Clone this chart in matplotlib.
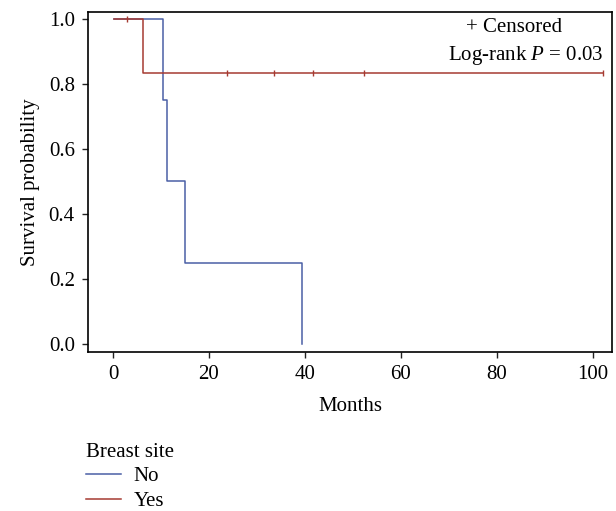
import matplotlib
matplotlib.use('Agg')

import numpy as np
import matplotlib.pyplot as plt
from matplotlib.lines import Line2D

# step data
no_times = [0.2, 10.5, 11.2, 15.1, 39.4]
no_surv = [1.0, 0.75, 0.5, 0.25, 0.0]

yes_times = [0.2, 6.3, 102.2]
yes_surv = [1.0, 0.8333, 0.8333]
yes_censor_t = [2.9, 23.8, 33.5, 41.6, 52.3, 102.2]
yes_censor_s = [1.0, 0.8333, 0.8333, 0.8333, 0.8333, 0.8333]

x_ticks = [0, 20, 40, 60, 80, 100]
y_ticks = [0.0, 0.2, 0.4, 0.6, 0.8, 1.0]

blue = '#4a5fa6'
red = '#a63a31'
fs = 15

plt.rcParams['font.family'] = ['Liberation Serif', 'DejaVu Serif']
plt.rcParams['mathtext.fontset'] = 'custom'
plt.rcParams['mathtext.it'] = 'Liberation Serif:italic'

fig = plt.figure(figsize=(6.16, 5.11), dpi=100)
ax = fig.add_axes([88 / 616, 1 - 352 / 511, (612 - 88) / 616, (352 - 12) / 511])

ax.step(no_times, no_surv, where='post', color=blue, linewidth=1.1)
ax.step(yes_times, yes_surv, where='post', color=red, linewidth=1.1)
ax.plot(yes_censor_t, yes_censor_s, linestyle='none', marker='|',
        markersize=5, markeredgewidth=1.0, color=red)

ax.set_xlim(-5.2, 104)
ax.set_ylim(-0.025, 1.0215)
ax.set_xticks(x_ticks)
ax.set_yticks(y_ticks)
ax.set_yticklabels(['%.1f' % v for v in y_ticks])
ax.tick_params(labelsize=fs, length=4.5, width=1.0, color='#222222', pad=5)
for s in ax.spines.values():
    s.set_linewidth(1.2)

ax.set_xlabel('Months', fontsize=fs, labelpad=9)
ax.set_ylabel('Survival probability', fontsize=fs, labelpad=6)

ax.text(514.5 / 616, 1 - 27 / 511, '+ Censored', transform=fig.transFigure,
        fontsize=fs, ha='center', va='center')
ax.text(604 / 616, 1 - 55 / 511, 'Log-rank $P$ = 0.03',
        transform=fig.transFigure, fontsize=fs, ha='right', va='center')

# legend below the plot
handles = [Line2D([], [], color=blue, linewidth=1.1),
           Line2D([], [], color=red, linewidth=1.1)]
leg = fig.legend(handles, ['No', 'Yes'], title='Breast site',
                 loc='upper left', bbox_to_anchor=(71 / 616, 1 - 428 / 511),
                 frameon=False, fontsize=fs, title_fontsize=fs,
                 handlelength=1.7, labelspacing=0.25, borderpad=0.2,
                 handletextpad=0.6)
leg._legend_box.align = 'left'

fig.savefig('out.png', dpi=100)
